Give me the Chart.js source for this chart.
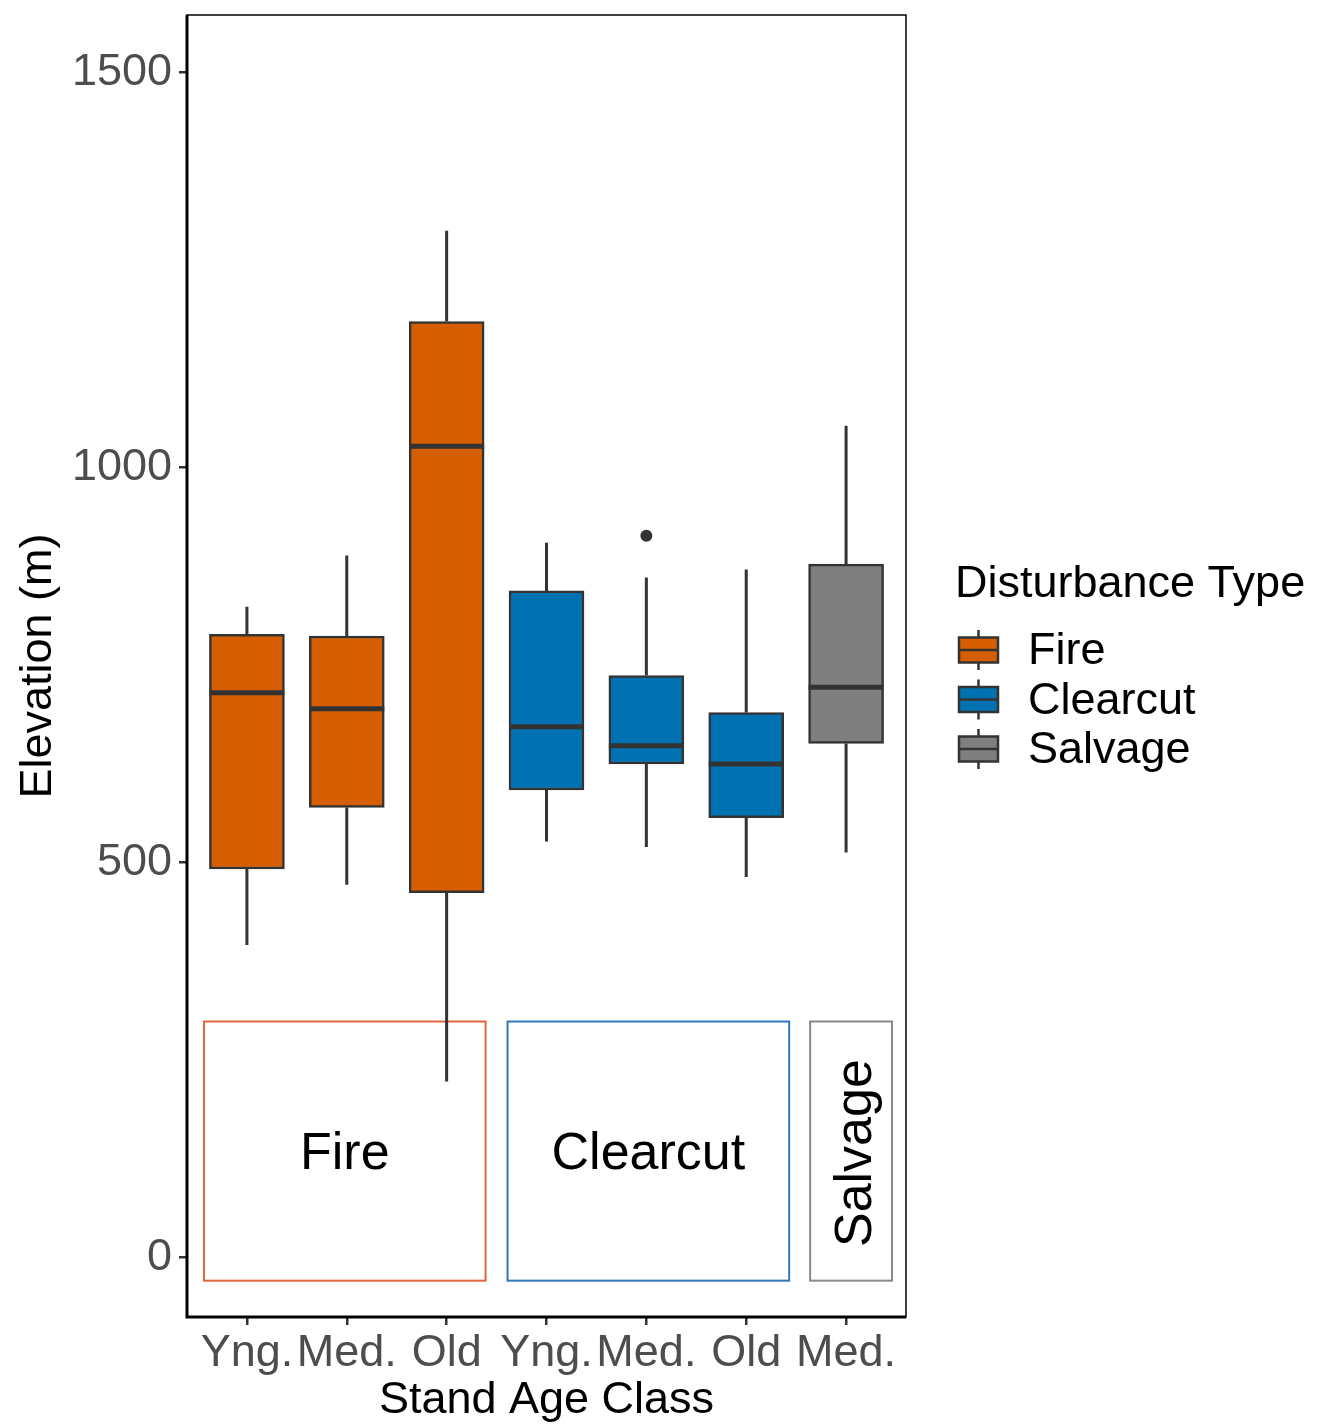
<!DOCTYPE html>
<html>
<head>
<meta charset="utf-8">
<script src="https://cdn.jsdelivr.net/npm/chart.js@4.4.1/dist/chart.umd.min.js"></script>
<style>
  html, body { margin: 0; padding: 0; background: #fff; }
  #wrap { width: 1340px; height: 1425px; }
</style>
</head>
<body>
<div id="wrap"><canvas id="boxChart" width="1340" height="1425"></canvas></div>
<script>
// stand age class per box, and disturbance type it belongs to
const ageLabels = ['Yng.', 'Med.', 'Old', 'Yng.', 'Med.', 'Old', 'Med.'];
const groups = ['Fire', 'Fire', 'Fire', 'Clearcut', 'Clearcut', 'Clearcut', 'Salvage'];

// box stats (elevation, m)
const whiskerLow = [396, 472, 223, 527, 520, 482, 513];
const q1 = [492, 570, 462, 592, 625, 557, 651];
const medians = [715, 695, 1027, 672, 648, 625, 722];
const q3 = [789, 787, 1185, 844, 737, 690, 878];
const whiskerHigh = [824, 889, 1300, 905, 861, 871, 1053];
const outliers = [{ x: 4, y: 914 }];

const yTicks = [0, 500, 1000, 1500];
const legendItems = ['Fire', 'Clearcut', 'Salvage'];

// group label boxes drawn inside the panel: [xFrom, xTo, yFrom, yTo]
const groupBoxes = {
  Fire: [-0.43, 2.39, -29, 299],
  Clearcut: [2.61, 5.43, -29, 299],
  Salvage: [5.64, 6.46, -29, 299]
};

const fills = { Fire: '#D55E00', Clearcut: '#0072B2', Salvage: '#7F7F7F' };
const boxLines = { Fire: '#E0673A', Clearcut: '#2E78B8', Salvage: '#888888' };
const DARK = '#333333';
const FONT = "'Liberation Sans', Arial, Helvetica, sans-serif";

Chart.defaults.font.family = FONT;

const noEdgePadding = s => {
  s.paddingTop = 0; s.paddingBottom = 0; s.paddingLeft = 0; s.paddingRight = 0;
};

const boxExtras = {
  id: 'boxExtras',
  beforeDatasetsDraw(chart) {
    const { ctx, scales: { x, y } } = chart;
    ctx.save();
    // group boxes + labels
    Object.keys(groupBoxes).forEach(g => {
      const [x0, x1, y0, y1] = groupBoxes[g];
      const px0 = x.getPixelForValue(x0), px1 = x.getPixelForValue(x1);
      const py0 = y.getPixelForValue(y0), py1 = y.getPixelForValue(y1);
      ctx.strokeStyle = boxLines[g];
      ctx.lineWidth = 2;
      ctx.strokeRect(px0, py1, px1 - px0, py0 - py1);
      ctx.fillStyle = '#000';
      ctx.font = '52px ' + FONT;
      ctx.textAlign = 'center';
      ctx.textBaseline = 'middle';
      const cx = (px0 + px1) / 2, cy = (py0 + py1) / 2 + 4;
      if (g === 'Salvage') {
        ctx.save();
        ctx.translate(cx + 6, cy - 2);
        ctx.rotate(-Math.PI / 2);
        ctx.fillText(g, 0, 0);
        ctx.restore();
      } else {
        ctx.fillText(g, cx, cy);
      }
    });
    // whiskers
    ctx.strokeStyle = DARK;
    ctx.lineWidth = 3;
    ageLabels.forEach((_, i) => {
      const px = x.getPixelForValue(i);
      ctx.beginPath();
      ctx.moveTo(px, y.getPixelForValue(q3[i]));
      ctx.lineTo(px, y.getPixelForValue(whiskerHigh[i]));
      ctx.moveTo(px, y.getPixelForValue(q1[i]));
      ctx.lineTo(px, y.getPixelForValue(whiskerLow[i]));
      ctx.stroke();
    });
    ctx.restore();
  },
  afterDatasetsDraw(chart) {
    const { ctx, chartArea: a, scales: { x, y } } = chart;
    const meta = chart.getDatasetMeta(0);
    ctx.save();
    // medians
    ctx.strokeStyle = DARK;
    ctx.lineWidth = 5;
    meta.data.forEach((bar, i) => {
      const half = bar.width / 2;
      const py = y.getPixelForValue(medians[i]);
      ctx.beginPath();
      ctx.moveTo(bar.x - half, py);
      ctx.lineTo(bar.x + half, py);
      ctx.stroke();
    });
    // outliers
    ctx.fillStyle = DARK;
    outliers.forEach(o => {
      ctx.beginPath();
      ctx.arc(x.getPixelForValue(o.x), y.getPixelForValue(o.y), 6, 0, Math.PI * 2);
      ctx.fill();
    });
    // panel border
    ctx.strokeStyle = '#000';
    ctx.lineWidth = 1.5;
    ctx.strokeRect(a.left, a.top, a.right - a.left, a.bottom - a.top);
    ctx.lineWidth = 3;
    ctx.beginPath();
    ctx.moveTo(a.left, a.top);
    ctx.lineTo(a.left, a.bottom);
    ctx.lineTo(a.right, a.bottom);
    ctx.stroke();

    // legend
    const lx = a.right + 49;
    ctx.fillStyle = '#000';
    ctx.font = '45px ' + FONT;
    ctx.textAlign = 'left';
    ctx.textBaseline = 'middle';
    ctx.fillText('Disturbance Type', lx, 585);
    legendItems.forEach((g, i) => {
      const cy = 650 + i * 49.5;
      const kx = lx + 4, kw = 39, kh = 25;
      ctx.strokeStyle = DARK;
      ctx.lineWidth = 2.5;
      ctx.beginPath();
      ctx.moveTo(kx + kw / 2, cy - 20);
      ctx.lineTo(kx + kw / 2, cy + 20);
      ctx.stroke();
      ctx.fillStyle = fills[g];
      ctx.fillRect(kx, cy - kh / 2, kw, kh);
      ctx.strokeRect(kx, cy - kh / 2, kw, kh);
      ctx.beginPath();
      ctx.moveTo(kx, cy);
      ctx.lineTo(kx + kw, cy);
      ctx.stroke();
      ctx.fillStyle = '#000';
      ctx.fillText(g, lx + 73, cy + 2);
    });
    ctx.restore();
  }
};

new Chart(document.getElementById('boxChart'), {
  type: 'bar',
  data: {
    datasets: [{
      data: ageLabels.map((_, i) => ({ x: i, y: [q1[i], q3[i]] })),
      backgroundColor: groups.map(g => fills[g]),
      borderColor: DARK,
      borderWidth: 2.5,
      borderSkipped: false,
      barThickness: 75
    }]
  },
  options: {
    responsive: false,
    animation: false,
    layout: { padding: { top: 15, right: 434, left: 0, bottom: 0 } },
    plugins: { legend: { display: false }, tooltip: { enabled: false } },
    scales: {
      x: {
        type: 'linear',
        offset: false,
        min: -0.6,
        max: 6.6,
        afterBuildTicks: s => { s.ticks = ageLabels.map((_, i) => ({ value: i })); },
        afterFit: s => { s.height = 108; noEdgePadding(s); },
        ticks: {
          autoSkip: false,
          maxRotation: 0,
          padding: 2,
          color: '#4D4D4D',
          font: { size: 45 },
          callback: v => ageLabels[v]
        },
        grid: { display: true, offset: false, drawOnChartArea: false, tickLength: 8, color: DARK, lineWidth: 2.5 },
        border: { display: false },
        title: { display: true, text: 'Stand Age Class', color: '#000', font: { size: 45 }, padding: { top: 0, bottom: -3 } }
      },
      y: {
        min: -75,
        max: 1573,
        afterBuildTicks: s => { s.ticks = yTicks.map(v => ({ value: v })); },
        afterFit: s => { s.width = 187; noEdgePadding(s); },
        ticks: { padding: 7, color: '#4D4D4D', font: { size: 45 }, callback: v => String(v) },
        grid: { display: true, drawOnChartArea: false, tickLength: 8, color: DARK, lineWidth: 2.5 },
        border: { display: false },
        title: { display: true, text: 'Elevation (m)', color: '#000', font: { size: 45 }, padding: { top: 12, bottom: 0 } }
      }
    }
  },
  plugins: [boxExtras]
});
</script>
</body>
</html>
